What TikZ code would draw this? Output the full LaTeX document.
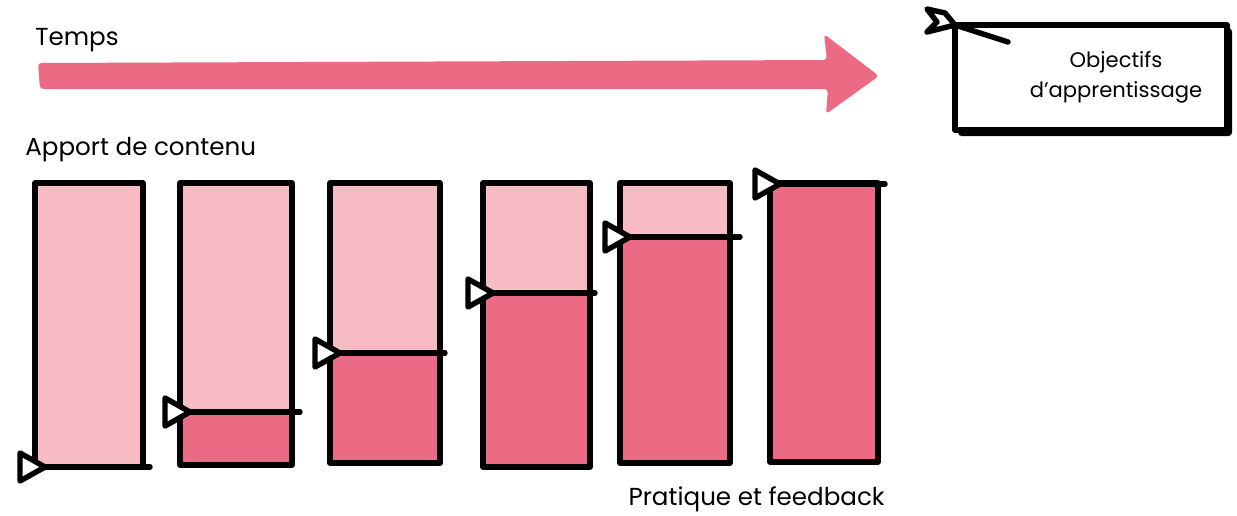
\documentclass[tikz,border=0pt]{standalone}
\usepackage{fontspec}
\setmainfont{Poppins}
\definecolor{darkpink}{HTML}{EC6B84}
\definecolor{lightpink}{HTML}{F7BCC3}
\begin{document}
\begin{tikzpicture}[x=0.02cm,y=-0.02cm,
  ink/.style={line width=3.1pt, line cap=round, line join=round, draw=black},
  flagmark/.style={ink, fill=white},
  lbl/.style={font=\fontsize{14}{17}\selectfont, inner sep=0pt}]
\useasboundingbox (0,0) rectangle (1237,515);
% time arrow
\fill[darkpink, rounded corners=2pt] (38,63) -- (827,60) -- (824,34) -- (879,76) -- (826,114) -- (828,89) -- (40,89) -- cycle;
\node[lbl, anchor=west] (temps) at (35,40) {Temps};
% objectives box
\fill[black, rounded corners=2pt] (958,28) rectangle (1232,136);
\draw[ink, fill=white] (955,25) rectangle (1227,130);
\node[lbl, font=\fontsize{12}{17}\selectfont, align=center] (obj) at (1116,77) {Objectifs\\d’apprentissage};
\coordinate (objflag) at (955,25);
\coordinate (objend) at (1008,42);
\draw[ink] (objflag) -- (objend);
\draw[flagmark] (927,9) -- (945,13) -- (955,25) -- (927,32) -- (937,22) -- cycle;
% bars
\foreach \n/\L/\R/\B/\Y/\E in {1/35/143/467/467/150, 2/180/292/465/412/300, 3/330/440/463/353/445, 4/483/590/467/293/595, 5/620/730/463/237/740, 6/770/878/462/184/885}{
  \fill[lightpink] (\L,183) rectangle (\R,\B);
  \fill[darkpink] (\L,\Y) rectangle (\R,\B);
  \draw[ink] (\L,183) rectangle (\R,\B);
  \coordinate (lv\n) at (\L+10,\Y);
  \coordinate (le\n) at (\E,\Y);
  \draw[ink] (lv\n) -- (le\n);
  \draw[flagmark] (\L-15,\Y-14) -- (lv\n) -- (\L-15,\Y+14) -- cycle;
}
\node[lbl, anchor=west] (apport) at (25,150) {Apport de contenu};
\node[lbl, anchor=east] (prat) at (885,499) {Pratique et feedback};
\end{tikzpicture}
\end{document}
